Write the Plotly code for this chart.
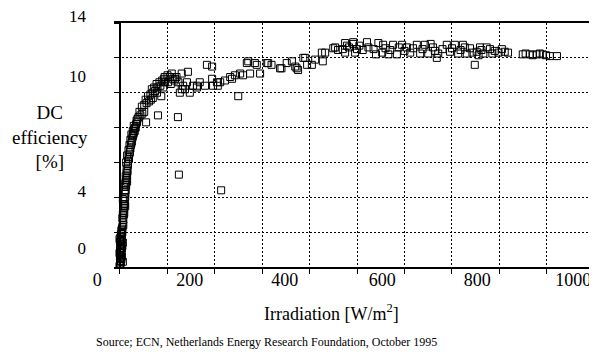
import plotly.graph_objects as go

# ---------------- data ----------------
# low-irradiance cluster
irr_low = [0, 1, 2, 1, 3, 2, 4, 1, 3, 5, 2, 4, 0, 1, 3, 5, 2, 4, 6, 1, 3, 5, 2, 4, 3, 5, 4, 6, 0, 7, 7]
eff_low = [0.05, 0.1, 0.2, 0.35, 0.3, 0.5, 0.45, 0.6, 0.7, 0.6, 0.85, 0.9, 0.8, 1.0, 1.1, 1.05, 1.25, 1.3, 1.2,
           1.45, 1.5, 1.55, 1.7, 1.75, 1.9, 1.95, 2.1, 2.0, 1.6, 0.3, 1.4]

# steep rise
irr_rise = [6, 7, 8, 6, 9, 8, 10, 9, 11, 10, 12, 11, 13, 12, 14, 13, 15, 7, 12, 9, 16,
            15, 17, 14, 18, 20, 16, 21, 19, 23, 21, 25, 23, 27, 25, 29, 28, 31, 33, 30, 35, 37,
            5, 8, 7, 10, 9, 11, 12, 13, 14, 15, 16, 17, 18, 19, 22, 24, 26, 28, 30, 32, 34, 36, 38]
eff_rise = [2.3, 2.5, 2.7, 2.8, 3.0, 3.2, 3.4, 3.6, 3.8, 4.0, 4.2, 4.4, 4.6, 4.8, 5.0, 5.2, 5.4, 3.9, 3.5, 4.6, 4.9,
            5.6, 5.8, 6.0, 6.1, 6.2, 6.4, 6.5, 6.7, 6.8, 7.0, 7.1, 7.3, 7.4, 7.6, 7.6, 7.8, 7.9, 8.0, 8.1, 8.2, 8.3,
            2.2, 2.4, 3.0, 3.1, 3.3, 3.6, 4.0, 4.4, 4.7, 5.1, 5.3, 5.5, 5.9, 6.3, 6.6, 7.0, 7.2, 7.5, 7.7, 7.8,
            8.0, 8.4, 8.5]

# knee of the curve
irr_knee = [40, 44, 48, 52, 42, 47, 52, 57, 62, 55, 66, 60, 65, 70, 75, 79, 68, 73, 80, 86, 92, 78,
            84, 90, 96, 102, 108, 94, 95, 101, 106, 112, 116, 120, 124, 110,
            56, 81, 123, 88, 70, 144, 134, 155, 127, 148, 117, 131, 125, 214]
eff_knee = [8.6, 8.7, 8.8, 8.9, 8.9, 9.2, 9.3, 9.4, 9.5, 9.6, 9.6, 9.8, 9.9, 10.0, 10.1, 10.0, 10.2, 10.3, 10.3,
            10.4, 10.3, 10.5, 10.6, 10.7, 10.6, 10.6, 10.5, 10.8, 10.9, 11.0, 10.9, 10.8, 10.7, 10.9, 10.6, 11.1,
            8.3, 8.7, 8.6, 9.8, 9.7, 11.2, 10.4, 10.4, 10.0, 10.0, 10.8, 11.1, 5.3, 4.4]

# middle range
irr_mid = [131, 142, 138, 163, 180, 184, 195, 195, 205, 197, 212, 237, 243, 254, 250, 271, 268, 275, 289, 296,
           313, 320, 338, 352, 363, 370, 376, 391, 395, 405, 412, 428, 433, 454, 470, 479, 492, 500,
           169, 163, 207, 222, 233, 260, 285, 310, 341, 373, 387, 426, 450, 460]
eff_mid = [10.2, 10.6, 10.2, 10.4, 10.4, 11.6, 11.5, 10.8, 10.6, 10.4, 10.6, 10.8, 11.0, 11.1, 9.8, 11.8, 11.7,
           11.1, 11.6, 11.1, 11.7, 11.6, 11.4, 11.7, 11.8, 11.5, 11.3, 12.0, 11.6, 11.6, 11.9, 11.8, 12.3, 12.6,
           12.5, 12.7, 12.8, 12.5, 10.6, 10.3, 10.4, 10.7, 10.9, 11.0, 11.7, 11.7, 11.4, 11.4, 12.0, 12.3, 12.55,
           12.45]

# plateau
irr_plat = [475, 475, 492, 496, 521, 524, 545, 553, 555, 566, 576, 584, 595, 605, 612, 626, 633, 643, 650, 660,
            668, 671, 689, 696, 706, 713, 723, 731, 738, 748, 752, 759, 766, 773, 790, 811, 849, 864, 878, 891,
            906, 921, 483, 505, 512, 535, 540, 560, 570, 588, 600, 618, 638, 655, 664, 680, 700, 718, 727, 743,
            756, 762, 780, 785, 798, 805, 818, 855, 870, 885, 898]
eff_plat = [12.85, 12.3, 12.9, 12.3, 12.9, 12.6, 12.85, 12.3, 12.75, 12.2, 12.75, 12.2, 12.75, 12.6, 12.3, 12.75,
            12.25, 12.75, 12.25, 12.6, 12.0, 12.25, 12.75, 12.35, 12.75, 12.25, 12.75, 12.25, 12.55, 11.6, 12.35,
            12.6, 12.25, 12.6, 12.4, 12.35, 12.2, 12.2, 12.2, 12.2, 12.1, 12.1, 12.6, 12.7, 12.45, 12.5, 12.2,
            12.55, 12.45, 12.6, 12.4, 12.55, 12.5, 12.8, 12.4, 12.5, 12.55, 12.45, 12.6, 12.3, 12.15, 12.45, 12.5,
            12.25, 12.3, 12.5, 12.3, 12.25, 12.15, 12.25, 12.15]

irradiance = irr_low + irr_rise + irr_knee + irr_mid + irr_plat
efficiency = eff_low + eff_rise + eff_knee + eff_mid + eff_plat

# grid / tick positions and the labels as printed
x_grid_ticks = [0, 100, 200, 300, 400, 500, 600, 700, 800, 900, 1000]
y_grid_ticks = [0, 2, 4, 6, 8, 10, 12, 14]
x_label_pos = [-47, 148, 348, 553, 753, 955]
x_label_text = ["0", "200", "400", "600", "800", "1000"]
y_label_pos = [1.09, 4.36, 10.96, 14.4]
y_label_text = ["0", "4", "10", "14"]

# ---------------- layout geometry ----------------
# the page body adds an 8 px offset, so the figure starts at window pixel 8
OFF = 8
W, H = 597 - OFF, 358 - OFF
# plotting paper in window pixels: x 88..597, y 8..267
ML, MR, MT, MB = 88 - OFF, 0, 8 - OFF, (358 - OFF) - (267 - OFF)
PW, PH = 597 - 88, 267 - 8
FONT = "Liberation Serif, Times New Roman, serif"


def px_x(p):
    return (p - 88) / PW


def px_y(p):
    return (267 - p) / PH


fig = go.Figure()
fig.add_trace(go.Scatter(
    x=irradiance, y=efficiency, mode="markers",
    marker=dict(symbol="square-open", size=7, color="black", line=dict(width=1, color="black")),
    showlegend=False, hoverinfo="skip", xaxis="x", yaxis="y"))
# empty trace to attach the label axes
fig.add_trace(go.Scatter(x=[], y=[], xaxis="x2", yaxis="y2", showlegend=False, hoverinfo="skip"))

dash = "2px,2px"
fig.update_layout(
    width=W, height=H,
    margin=dict(l=ML, r=MR, t=MT, b=MB, autoexpand=False),
    paper_bgcolor="white", plot_bgcolor="rgba(0,0,0,0)",
    font=dict(family=FONT, color="black"),
    xaxis=dict(domain=[px_x(114), 1], range=[-11.6, 1005.3], anchor="y",
               tickmode="array", tickvals=x_grid_ticks, showticklabels=False,
               ticks="outside", ticklen=5, tickcolor="black", tickwidth=1,
               showgrid=True, gridcolor="black", gridwidth=1, griddash=dash,
               showline=True, linecolor="black", linewidth=1.5, mirror=True, zeroline=False),
    yaxis=dict(domain=[0, px_y(23)], range=[0, 14], anchor="free", position=px_x(119.5),
               tickmode="array", tickvals=y_grid_ticks, showticklabels=False,
               ticks="outside", ticklen=5, tickcolor="black", tickwidth=1,
               showgrid=True, gridcolor="black", gridwidth=1, griddash=dash,
               showline=True, linecolor="black", linewidth=1.5, zeroline=False),
    xaxis2=dict(domain=[0, 1], range=[(88 - 119.5) / 0.475, (597 - 119.5) / 0.475], anchor="y",
                tickmode="array", tickvals=x_label_pos, ticktext=x_label_text,
                tickfont=dict(size=18, family=FONT), ticks="", showgrid=False, showline=False,
                zeroline=False, ticklabeloverflow="allow"),
    yaxis2=dict(domain=[0, 1], range=[0, PH / 17.43], anchor="free", position=px_x(119.5), side="left",
                tickmode="array", tickvals=y_label_pos, ticktext=y_label_text,
                tickfont=dict(size=17, family=FONT), ticks="outside", ticklen=30,
                tickcolor="rgba(0,0,0,0)", showgrid=False, showline=False, zeroline=False,
                ticklabeloverflow="allow"),
    annotations=[
        dict(text="DC<br>efficiency<br>[%]", xref="paper", yref="paper", x=px_x(50), y=px_y(137),
             xanchor="center", yanchor="middle", showarrow=False, font=dict(size=19, family=FONT)),
        dict(text="Irradiation [W/m<sup>2</sup>]", xref="paper", yref="paper", x=px_x(331), y=px_y(312),
             xanchor="center", yanchor="middle", showarrow=False, font=dict(size=18, family=FONT)),
        dict(text="Source; ECN, Netherlands Energy Research Foundation, October 1995", xref="paper",
             yref="paper", x=px_x(266), y=px_y(342), xanchor="center", yanchor="middle", showarrow=False,
             font=dict(size=12, family=FONT)),
    ],
)

fig.write_html("out.html")
